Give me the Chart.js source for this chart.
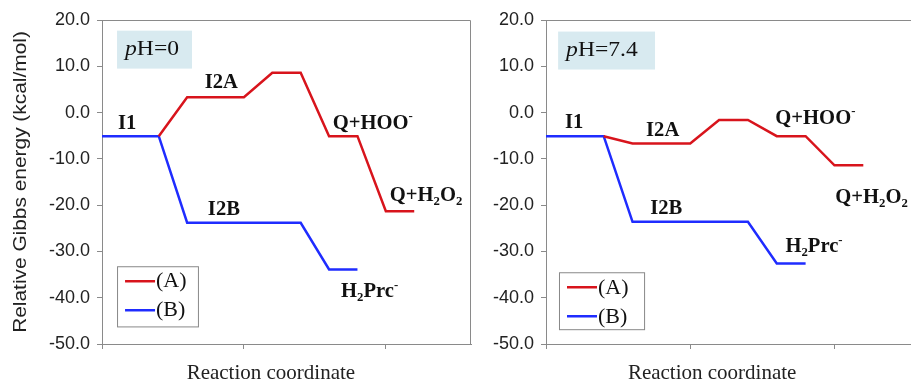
<!DOCTYPE html>
<html>
<head>
<meta charset="utf-8">
<script src="https://cdn.jsdelivr.net/npm/chart.js@4.4.1/dist/chart.umd.min.js"></script>
<style>
  html, body { margin: 0; padding: 0; background: #fff; }
  #wrap { position: relative; width: 911px; height: 385px; overflow: hidden; }
  .panel { position: absolute; top: 0; width: 480px; height: 385px; }
</style>
</head>
<body>
<div id="wrap">
  <div class="panel" style="left:0"><canvas id="c0" width="480" height="385"></canvas></div>
  <div class="panel" style="left:480px"><canvas id="c1" width="480" height="385"></canvas></div>
</div>
<script>
// reaction coordinate of each level (path A and path B)
const coordA = [2, 3, 5, 6, 7, 8, 9, 10, 11];
const coordB = [0, 2, 3, 7, 8, 9];

// relative Gibbs energy (kcal/mol)
const energyA_pH0  = [-5.1, 3.3, 3.3, 8.6, 8.6, -5.1, -5.1, -21.3, -21.3];
const energyB_pH0  = [-5.1, -5.1, -23.8, -23.8, -33.9, -33.9];
const energyA_pH74 = [-5.1, -6.7, -6.7, -1.6, -1.6, -5.1, -5.1, -11.4, -11.4];
const energyB_pH74 = [-5.1, -5.1, -23.6, -23.6, -32.6, -32.6];

const yTicks = [-50, -40, -30, -20, -10, 0, 10, 20];
const xTicks = [0, 5, 10];
const seriesNames = ['(A)', '(B)'];
const phValues = ['0', '7.4'];

// state labels: [text parts]
const stateNames = {
  I1:    [['I1', '']],
  I2A:   [['I2A', '']],
  I2B:   [['I2B', '']],
  QHOO:  [['Q+HOO', ''], ['-', 'sup']],
  QH2O2: [['Q+H', ''], ['2', 'sub'], ['O', ''], ['2', 'sub']],
  H2Prc: [['H', ''], ['2', 'sub'], ['Prc', ''], ['-', 'sup']]
};

const RED = '#d8141c';
const BLUE = '#1f2cff';
const FRAME = '#8a8a8a';

function drawRich(ctx, parts, x, y, size, weight, sx) {
  ctx.save();
  ctx.translate(x, y);
  ctx.scale(sx, 1);
  ctx.textBaseline = 'middle';
  ctx.textAlign = 'left';
  ctx.fillStyle = '#111';
  let cx = 0;
  for (const [t, m] of parts) {
    const small = m === 'sub' || m === 'sup';
    const fs = small ? size * 0.62 : size;
    const dy = m === 'sub' ? size * 0.3 : m === 'sup' ? -size * 0.33 : 0;
    ctx.font = (m === 'it' ? 'italic ' : '') + weight + ' ' + fs + 'px "Liberation Serif", serif';
    ctx.fillText(t, cx, dy);
    cx += ctx.measureText(t).width;
  }
  ctx.restore();
}

const decor = {
  id: 'decor',
  afterDraw(chart, args, o) {
    const {ctx, chartArea: a, scales: {x, y}} = chart;
    ctx.save();
    // frame
    ctx.strokeStyle = FRAME;
    ctx.lineWidth = 1;
    ctx.beginPath();
    ctx.moveTo(a.left, a.top + 0.5);
    ctx.lineTo(a.right - 0.5, a.top + 0.5);
    ctx.lineTo(a.right - 0.5, a.bottom);
    ctx.stroke();

    // pH box
    const bx0 = x.getPixelForValue(o.phBox[0]), bx1 = x.getPixelForValue(o.phBox[1]);
    const by0 = y.getPixelForValue(o.phBox[2]), by1 = y.getPixelForValue(o.phBox[3]);
    ctx.fillStyle = '#d8eaf0';
    ctx.fillRect(bx0, by0, bx1 - bx0, by1 - by0);
    drawRich(ctx, [['p', 'it'], ['H=' + o.ph, '']], bx0 + 8, (by0 + by1) / 2, 20, 'normal', 1.18);

    // state labels
    for (const [key, px, py] of o.labels) {
      drawRich(ctx, stateNames[key], x.getPixelForValue(px), y.getPixelForValue(py), 20, 'bold', 1.03);
    }

    // legend
    const lx0 = x.getPixelForValue(o.legend[0]), lx1 = x.getPixelForValue(o.legend[1]);
    const ly0 = y.getPixelForValue(o.legend[2]), ly1 = y.getPixelForValue(o.legend[3]);
    ctx.fillStyle = '#fff';
    ctx.fillRect(lx0, ly0, lx1 - lx0, ly1 - ly0);
    ctx.strokeStyle = '#888';
    ctx.strokeRect(lx0 + 0.5, ly0 + 0.5, lx1 - lx0, ly1 - ly0);
    chart.data.datasets.forEach((ds, i) => {
      const ry = ly0 + 15 + i * 29;
      ctx.strokeStyle = ds.borderColor;
      ctx.lineWidth = 2.5;
      ctx.beginPath();
      ctx.moveTo(lx0 + 8, ry);
      ctx.lineTo(lx0 + 38, ry);
      ctx.stroke();
      drawRich(ctx, [[seriesNames[i], '']], lx0 + 39, ry + 1, 20, 'normal', 1.1);
    });

    // x title
    ctx.fillStyle = '#222';
    ctx.font = '21px "Liberation Serif", serif';
    ctx.textAlign = 'center';
    ctx.textBaseline = 'middle';
    ctx.fillText('Reaction coordinate', x.getPixelForValue(o.xTitleAt), 373);

    // y title
    if (o.yTitle) {
      ctx.save();
      ctx.translate(21, (a.top + a.bottom) / 2);
      ctx.rotate(-Math.PI / 2);
      ctx.scale(1.16, 1);
      ctx.font = '18px "Liberation Sans", Arial, sans-serif';
      ctx.fillText('Relative Gibbs energy (kcal/mol)', 0, 0);
      ctx.restore();
    }
    ctx.restore();
  }
};

function makeChart(id, a, b, o) {
  return new Chart(document.getElementById(id), {
    type: 'line',
    data: {
      datasets: [
        { label: seriesNames[0], data: coordA.map((c, i) => ({x: c, y: a[i]})), borderColor: RED },
        { label: seriesNames[1], data: coordB.map((c, i) => ({x: c, y: b[i]})), borderColor: BLUE }
      ]
    },
    options: {
      responsive: false,
      animation: false,
      layout: { padding: { top: 20, right: o.padRight, left: 0, bottom: 0 } },
      elements: {
        line: { borderWidth: 2.5, tension: 0, fill: false, borderJoinStyle: 'miter' },
        point: { radius: 0, hoverRadius: 0 }
      },
      plugins: { legend: { display: false }, tooltip: { enabled: false }, decor: o },
      scales: {
        x: {
          type: 'linear', min: 0, max: 13,
          afterBuildTicks: s => { s.ticks = xTicks.map(v => ({value: v})); },
          ticks: { callback: () => '' },
          grid: { drawOnChartArea: false, tickLength: 5, color: FRAME },
          border: { color: FRAME },
          afterFit: s => { s.height = 41; }
        },
        y: {
          min: -50, max: 20,
          afterBuildTicks: s => { s.ticks = yTicks.map(v => ({value: v})); },
          ticks: {
            callback: v => v.toFixed(1),
            font: { family: '"Liberation Sans", Arial', size: 18 },
            color: '#222', padding: 7
          },
          grid: { drawOnChartArea: false, tickLength: 5, color: FRAME },
          border: { color: FRAME },
          afterFit: s => { s.width = o.yWidth; }
        }
      }
    },
    plugins: [decor]
  });
}

makeChart('c0', energyA_pH0, energyB_pH0, {
  ph: phValues[0], yTitle: true, yWidth: 102, padRight: 9,
  phBox: [0.53, 3.17, 17.7, 9.5],
  legend: [0.53, 3.38, -33.2, -46.2],
  xTitleAt: 5.95,
  labels: [['I1', 0.56, -2.4], ['I2A', 3.62, 6.5], ['I2B', 3.73, -21.1],
           ['QHOO', 8.13, -2.4], ['QH2O2', 10.14, -17.9], ['H2Prc', 8.42, -38.8]]
});

makeChart('c1', energyA_pH74, energyB_pH74, {
  ph: phValues[1], yTitle: false, yWidth: 66, padRight: 39,
  phBox: [0.42, 3.78, 17.5, 9.3],
  legend: [0.45, 3.4, -34.5, -46.8],
  xTitleAt: 5.76,
  labels: [['I1', 0.66, -2.2], ['I2A', 3.47, -3.9], ['I2B', 3.61, -20.7],
           ['QHOO', 7.95, -1.3], ['QH2O2', 10.03, -18.5], ['H2Prc', 8.3, -29.1]]
});
</script>
</body>
</html>
